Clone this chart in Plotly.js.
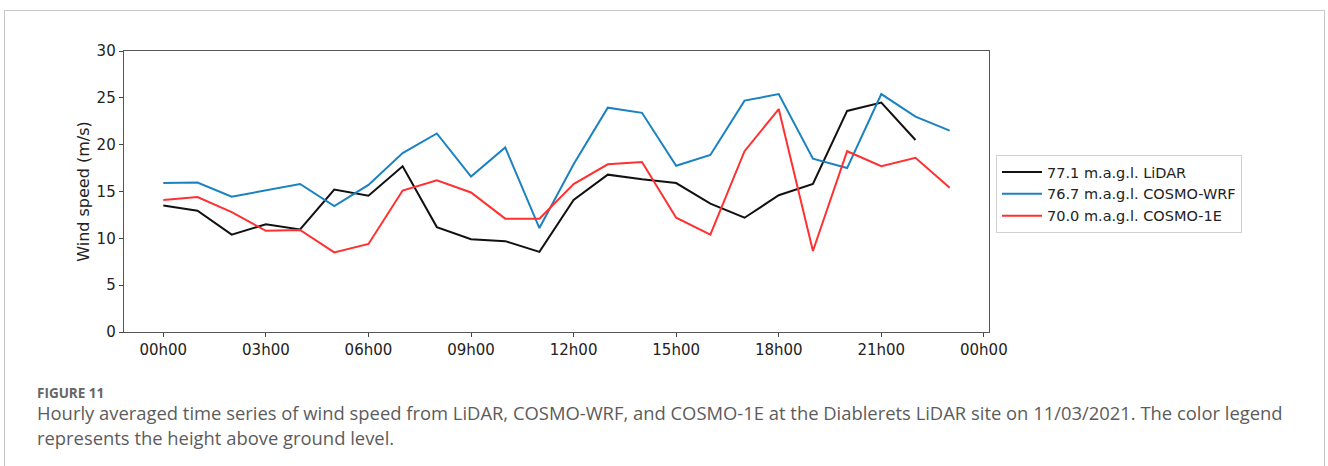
<!DOCTYPE html>
<html>
<head>
<meta charset="utf-8">
<script src="https://cdn.plot.ly/plotly-3.0.1.min.js"></script>
<style>
  html, body { margin: 0; padding: 0; background: #fff; }
  #frame { position: absolute; left: 4px; top: 10px; width: 1321px; height: 470px; border: 1.5px solid #c8c8c8; box-sizing: border-box; }
  #chart { position: absolute; left: 0; top: 0; width: 1328px; height: 466px; }
</style>
</head>
<body>
<div id="frame"></div>
<div id="chart"></div>
<script>
// Hours of day (0 = 00h00)
const hours = [0,1,2,3,4,5,6,7,8,9,10,11,12,13,14,15,16,17,18,19,20,21,22,23];
const lidarHours = [0,1,2,3,4,5,6,7,8,9,10,11,12,13,14,15,16,17,18,19,20,21,22];

const lidar = [13.5,12.95,10.4,11.5,10.95,15.2,14.55,17.7,11.2,9.9,9.7,8.55,14.1,16.8,16.3,15.9,13.7,12.2,14.6,15.8,23.6,24.5,20.5];
const cosmoWRF = [15.9,15.95,14.45,15.15,15.8,13.45,15.7,19.1,21.2,16.6,19.7,11.1,17.9,23.95,23.4,17.75,18.9,24.7,25.4,18.5,17.5,25.4,23.0,21.5];
const cosmo1E = [14.1,14.4,12.8,10.8,10.9,8.5,9.4,15.1,16.2,14.9,12.1,12.1,15.8,17.9,18.15,12.2,10.4,19.3,23.8,8.65,19.3,17.7,18.6,15.4];

const seriesNames = ["77.1 m.a.g.l. LiDAR", "76.7 m.a.g.l. COSMO-WRF", "70.0 m.a.g.l. COSMO-1E"];
const tickVals = [0,3,6,9,12,15,18,21,24];
const tickText = ["00h00","03h00","06h00","09h00","12h00","15h00","18h00","21h00","00h00"];
const yTicks = [0,5,10,15,20,25,30];

const captionHead = "FIGURE 11";
const captionLine1 = "Hourly averaged time series of wind speed from LiDAR, COSMO-WRF, and COSMO-1E at the Diablerets LiDAR site on 11/03/2021. The color legend";
const captionLine2 = "represents the height above ground level.";

const mplFont = "DejaVu Sans, sans-serif";
const capFont = "Open Sans, sans-serif";

const traces = [
  {x: lidarHours, y: lidar, name: seriesNames[0], mode: "lines", line: {color: "#111111", width: 2}},
  {x: hours, y: cosmoWRF, name: seriesNames[1], mode: "lines", line: {color: "#1a82c0", width: 2}},
  {x: hours, y: cosmo1E, name: seriesNames[2], mode: "lines", line: {color: "#ff3030", width: 2}}
];

const L = 124, R = 989, T = 51, B = 332;
const W = 1328, H = 466;
const pw = R - L, ph = B - T;
function px(x) { return (x - L) / pw; }
function py(y) { return (B - y) / ph; }

const layout = {
  width: W, height: H,
  margin: {l: L, r: W - R, t: T, b: H - B, pad: 0},
  paper_bgcolor: "rgba(0,0,0,0)",
  plot_bgcolor: "#ffffff",
  showlegend: true,
  legend: {
    x: px(996), y: py(155), xanchor: "left", yanchor: "top",
    bgcolor: "#ffffff", bordercolor: "#d0d0d0", borderwidth: 1,
    font: {family: mplFont, size: 14.5, color: "#222"},
    itemwidth: 40,
    tracegroupgap: 0
  },
  xaxis: {
    range: [-1.15, 24.15],
    tickmode: "array", tickvals: tickVals, ticktext: tickText,
    ticks: "outside", ticklen: 4, tickcolor: "#444", tickwidth: 1,
    showgrid: false, zeroline: false,
    showline: true, linecolor: "#555", linewidth: 1.3, mirror: true,
    tickfont: {family: mplFont, size: 15, color: "#222"}
  },
  yaxis: {
    range: [0, 30],
    tickmode: "array", tickvals: yTicks,
    ticks: "outside", ticklen: 4, tickcolor: "#444", tickwidth: 1,
    showgrid: false, zeroline: false,
    showline: true, linecolor: "#555", linewidth: 1.3, mirror: true,
    tickfont: {family: mplFont, size: 15, color: "#222"},
    title: {text: "Wind speed (m/s)", font: {family: mplFont, size: 16, color: "#222"}, standoff: 3}
  },
  annotations: [
    {xref: "paper", yref: "paper", x: px(35), y: py(393), xanchor: "left", yanchor: "middle",
     text: "<b>" + captionHead + "</b>", showarrow: false,
     font: {family: capFont, size: 13.5, color: "#666"}},
    {xref: "paper", yref: "paper", x: px(35), y: py(412), xanchor: "left", yanchor: "middle",
     text: captionLine1, showarrow: false,
     font: {family: capFont, size: 18.4, color: "#5c5c5c"}},
    {xref: "paper", yref: "paper", x: px(35), y: py(438), xanchor: "left", yanchor: "middle",
     text: captionLine2, showarrow: false,
     font: {family: capFont, size: 18.4, color: "#5c5c5c"}}
  ]
};

Plotly.newPlot("chart", traces, layout, {displayModeBar: false, staticPlot: true});
</script>
</body>
</html>
